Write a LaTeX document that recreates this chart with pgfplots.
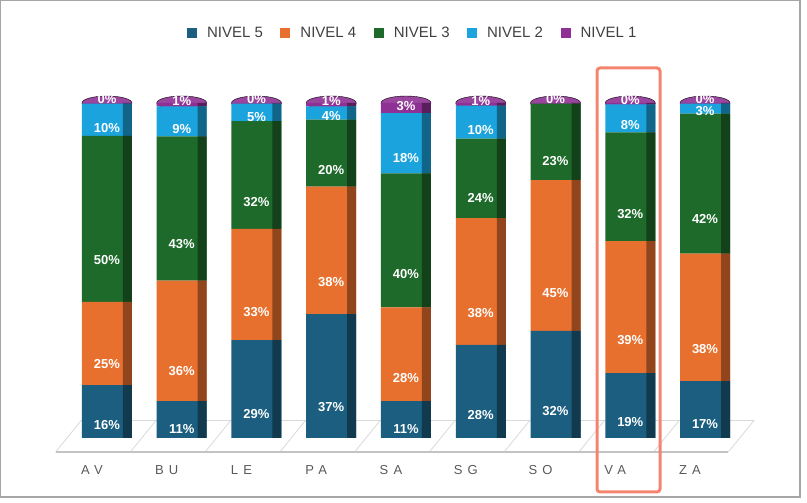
\documentclass[border=0pt]{standalone}
\usepackage{pgfplots}
\pgfplotsset{compat=1.18}
\usepackage{pgfplotstable}
\usepackage{fontspec}
\setmainfont{Liberation Sans}
\newfontfamily\spaced[LetterSpace=40]{Liberation Sans}
\definecolor{cN5}{HTML}{1B5E80}
\definecolor{cN4}{HTML}{E8702E}
\definecolor{cN3}{HTML}{1E6A2A}
\definecolor{cN2}{HTML}{1AA3DC}
\definecolor{cN1}{HTML}{8F3194}
\definecolor{hl}{HTML}{F4846E}
\definecolor{lab}{HTML}{595959}
\definecolor{legt}{HTML}{404040}
\definecolor{floor}{HTML}{D9D9D9}
% values (shares of each column, rounded labels shown)
\pgfplotstableread{
x n5 n4 n3 n2 n1
0 15.8 24.8 49.6 9.6 0.2
1 11 36 43 9 1
2 29.2 33.2 32.2 5.2 0.2
3 37 38 20 4 1
4 11 28 40 18 3
5 27.8 37.8 23.8 9.8 0.8
6 32 45 22.8 0 0.2
7 19.4 39.4 32.4 8.4 0.4
8 17 38 41.8 3 0.2
}\data
\pgfplotstableread{
x top
0 100
1 100
2 100
3 100
4 100
5 100
6 100
7 100
8 100
}\tops
\pgfplotsset{
  base/.style={
    at={(69.6pt,65pt)}, anchor=south west,
    scale only axis, width=672.8pt, height=335pt,
    xmin=-0.5, xmax=8.5, ymin=0, ymax=100,
    clip=false,
    axis line style={draw=none},
    ytick=\empty,
    major tick length=0pt,
  }
}
\newcommand{\seg}[3]{%
  \addplot[draw=none, fill=#2,
    visualization depends on={\thisrow{#1} \as \segval},
    nodes near coords={\pgfmathprintnumber{\segval}\%},
    every node near coord/.append style={anchor=center, shift={(axis direction cs:0,-\segval/4)},
      yshift=#3, text=white, font=\bfseries\fontsize{13}{13}\selectfont}
  ] table[x=x, y=#1] {\data};
}
\newcommand{\segdark}[2]{%
  \addplot[draw=none, fill=#2!62!black] table[x=x, y=#1] {\data};
}
\begin{document}
\begin{tikzpicture}
\useasboundingbox (0,0) rectangle (807pt,503pt);
\draw[gray!70, line width=1.2pt] (0.6pt,6pt) rectangle (800pt,502.4pt);
% floor
\foreach \k in {0,...,9} {
  \pgfmathsetmacro{\bx}{69.6+74.75*\k}
  \draw[floor, line width=0.8pt] (\bx pt+12pt,83pt) -- (\bx pt-14pt,51pt);
}
\draw[floor, line width=0.8pt] (81.6pt,83pt) -- (754.4pt,83pt);
\draw[floor!90!black, line width=1.6pt] (55.6pt,51pt) -- (728.4pt,51pt);
% column caps
\begin{axis}[base, xtick=\empty]
\addplot[only marks, mark=*, mark size=25pt,
  mark options={yscale=0.28, fill=cN1!90!white, draw=none}] table[x=x, y=top] {\tops};
\end{axis}
\begin{axis}[base, ybar stacked, bar width=50pt,
  xtick={0,...,8}, xticklabels={AV,BU,LE,PA,SA,SG,SO,VA,ZA},
  xticklabel style={font=\spaced\fontsize{13}{13}\selectfont, text=lab, xshift=-15pt, yshift=-24pt},
  /pgf/number format/assume math mode=true,
  /pgf/number format/fixed, /pgf/number format/precision=0,
  legend columns=5,
  legend style={draw=none, fill=none, at={(0.5100,1.209)}, anchor=center,
    font=\fontsize{15}{16}\selectfont, text=legt,
    /tikz/every odd column/.append style={column sep=8pt},
    /tikz/every even column/.append style={column sep=15.5pt}},
  legend image code/.code={\fill[#1] (0pt,-5pt) rectangle (10pt,5pt);},
]
\seg{n5}{cN5}{0pt}
\seg{n4}{cN4}{0pt}
\seg{n3}{cN3}{0pt}
\seg{n2}{cN2}{0pt}
\seg{n1}{cN1}{4pt}
\legend{NIVEL 5,NIVEL 4,NIVEL 3,NIVEL 2,NIVEL 1}
\end{axis}
\begin{axis}[base, ybar stacked, bar width=9pt, bar shift=20.5pt, xtick=\empty]
\segdark{n5}{cN5}
\segdark{n4}{cN4}
\segdark{n3}{cN3}
\segdark{n2}{cN2}
\segdark{n1}{cN1}
\end{axis}
\draw[hl, line width=3pt, rounded corners=3pt] (597pt,11pt) rectangle (660pt,435pt);
\end{tikzpicture}
\end{document}
